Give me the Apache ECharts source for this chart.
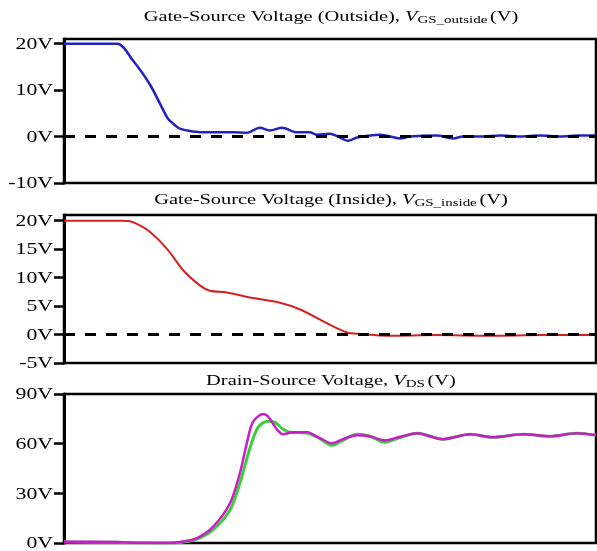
<!DOCTYPE html>
<html>
<head>
    <meta charset="utf-8">
</head>
<body style="margin: 0">
    <div id="container" style="width: 597px; height: 551px"></div>
    <script src="https://cdn.jsdelivr.net/npm/echarts@6/dist/echarts.min.js"></script>
    <script type="text/javascript">
        // time axis is arbitrary 0..100 across the plot width
        var vgsOutside = [[0, 20], [10, 20], [13, 16.3], [16.2, 11.1], [19.4, 4.1], [20.3, 3.0],
            [21.8, 1.7], [24.2, 1.1], [27.4, 0.9], [31.8, 0.9], [34.4, 0.8], [36.8, 1.9], [38.7, 1.3],
            [41, 1.9], [43.8, 0.9], [46.2, 0.9], [47.6, 0.4], [50, 0.6], [51.5, 0], [53.4, -0.9],
            [55.1, -0.2], [59.4, 0.4], [63.2, -0.4], [65, 0], [70.1, 0.2], [73.1, -0.4], [75, 0],
            [78.8, 0], [82, 0.2], [85.7, 0], [89.5, 0.2], [93.2, 0], [97, 0.2], [100, 0.2]];
        var vgsInside = [[0, 20], [11, 20], [12.4, 19.9], [14, 19.3], [16.2, 18], [19.4, 15], [22.4, 11.3],
            [25.6, 8.6], [27.4, 7.7], [30.6, 7.4], [35, 6.5], [40.6, 5.6], [44.4, 4.4], [53.2, 0.35],
            [56, 0.1], [60.7, -0.2], [70, -0.1], [80, -0.2], [90, -0.1], [100, -0.1]];
        var vdsGreen = [[0, 0.6], [10, 0.4], [14, 0.1], [20, 0], [21.8, 0.3], [25, 2.4], [28, 7.9], [31.2, 20],
            [33.1, 36.5], [35, 57.8], [36.5, 70], [38.3, 73.6], [39.6, 73], [41.2, 68.7], [42.5, 66.9],
            [45.7, 66.5], [48.1, 63], [50.4, 59], [52.4, 62], [55.1, 65.7], [57.5, 64.5], [60.3, 60.8],
            [63, 63.5], [66.4, 66.3], [71.2, 62.7], [76.3, 65.7], [80.6, 63.9], [86.3, 65.7],
            [91.4, 64.5], [96.4, 66.3], [100, 65.1]];
        var vdsMagenta = [[0, 0.8], [10, 0.6], [14, 0.1], [20, 0], [21.8, 0.6], [25, 3], [28, 9.7], [31.2, 24],
            [33.1, 42.6], [34.4, 60.8], [35.5, 73], [37.4, 77.9], [38.3, 76.6], [40, 68.7], [41.2, 65.7],
            [43, 66.9], [45.7, 66.9], [48.1, 63.3], [50.4, 60.2], [52.4, 62.7], [55.1, 65.1], [57.5, 64.5],
            [60.3, 62], [63, 64], [66.4, 66.3], [71.2, 62.7], [76.3, 65.7], [80.6, 63.9], [86.3, 65.7],
            [91.4, 64.5], [96.4, 66.3], [100, 65.1]];

        var ticksOutside = [-10, 0, 10, 20];
        var ticksInside = [-5, 0, 5, 10, 15, 20];
        var ticksDs = [0, 30, 60, 90];
        var titles = [
            ['Gate-Source Voltage (Outside), ', 'GS_outside'],
            ['Gate-Source Voltage (Inside), ', 'GS_inside'],
            ['Drain-Source Voltage, ', 'DS']
        ];

        var dom = document.getElementById("container");
        var myChart = echarts.init(dom);

        var serif = '"Liberation Serif", "Times New Roman", serif';
        var stretch = 1.36; // the reference text is drawn wide

        function yAx(idx, min, max, ticks) {
            return {
                type: 'value', gridIndex: idx, min: min, max: max,
                splitLine: { show: false },
                axisLine: { show: true, lineStyle: { color: '#000', width: 3 } },
                axisTick: { show: true, length: 10, customValues: ticks, lineStyle: { color: '#000', width: 2.5 } },
                axisLabel: { show: false }
            };
        }
        function xAx(idx) {
            return { type: 'value', gridIndex: idx, min: 0, max: 100, show: false };
        }
        var zeroLine = {
            silent: true,
            symbol: ['none', 'none'],
            label: { show: false },
            lineStyle: { color: '#000', width: 3, type: [11, 10] },
            data: [{ yAxis: 0 }]
        };
        var box = { show: true, left: 64, right: 1, borderColor: '#000', borderWidth: 2.5, backgroundColor: '#fff' };

        var option = {
            animation: false,
            backgroundColor: '#fff',
            grid: [
                Object.assign({ top: 39, height: 144 }, box),
                Object.assign({ top: 215, height: 148 }, box),
                Object.assign({ top: 394, height: 149 }, box)
            ],
            xAxis: [xAx(0), xAx(1), xAx(2)],
            yAxis: [yAx(0, -10, 21, ticksOutside), yAx(1, -5, 21, ticksInside), yAx(2, 0, 90, ticksDs)],
            series: [{
                type: 'line', xAxisIndex: 0, yAxisIndex: 0, data: vgsOutside, smooth: 0.3,
                showSymbol: false, lineStyle: { color: '#2222c0', width: 2.5 }, markLine: zeroLine
            }, {
                type: 'line', xAxisIndex: 1, yAxisIndex: 1, data: vgsInside, smooth: 0.3,
                showSymbol: false, lineStyle: { color: '#d42222', width: 2 }, markLine: zeroLine
            }, {
                type: 'line', xAxisIndex: 2, yAxisIndex: 2, data: vdsGreen, smooth: 0.3,
                showSymbol: false, lineStyle: { color: '#3ccc3c', width: 3 }
            }, {
                type: 'line', xAxisIndex: 2, yAxisIndex: 2, data: vdsMagenta, smooth: 0.3,
                showSymbol: false, lineStyle: { color: '#c81ec8', width: 2.5 }
            }]
        };
        myChart.setOption(option);

        // tick labels and titles, stretched sideways like the original figure
        var graphics = [];
        [ticksOutside, ticksInside, ticksDs].forEach(function (ticks, gi) {
            ticks.forEach(function (v) {
                var p = myChart.convertToPixel({ gridIndex: gi }, [0, v]);
                graphics.push({
                    type: 'text', x: 53, y: p[1] + 1, scaleX: stretch,
                    style: {
                        text: v + 'V', font: '16px ' + serif, fill: '#000',
                        align: 'right', verticalAlign: 'middle', textAlign: 'right', textVerticalAlign: 'middle'
                    }
                });
            });
        });
        var titleY = [17, 200, 381];
        titles.forEach(function (t, i) {
            graphics.push({
                type: 'text', x: 331, y: titleY[i], scaleX: stretch,
                style: {
                    text: '{n|' + t[0] + '}{i|V}{s|' + t[1] + '}{p|(V)}',
                    align: 'center', verticalAlign: 'middle', textAlign: 'center', textVerticalAlign: 'middle',
                    fill: '#000',
                    rich: {
                        n: { fontFamily: serif, fontSize: 15, color: '#000' },
                        i: { fontFamily: serif, fontSize: 15, fontStyle: 'italic', color: '#000' },
                        s: { fontFamily: serif, fontSize: 11, color: '#000', padding: [6, 0, 0, 0] },
                        p: { fontFamily: serif, fontSize: 15, color: '#000', padding: [0, 0, 0, 2] }
                    }
                }
            });
        });
        myChart.setOption({ graphic: graphics });
    </script>
</body>
</html>
